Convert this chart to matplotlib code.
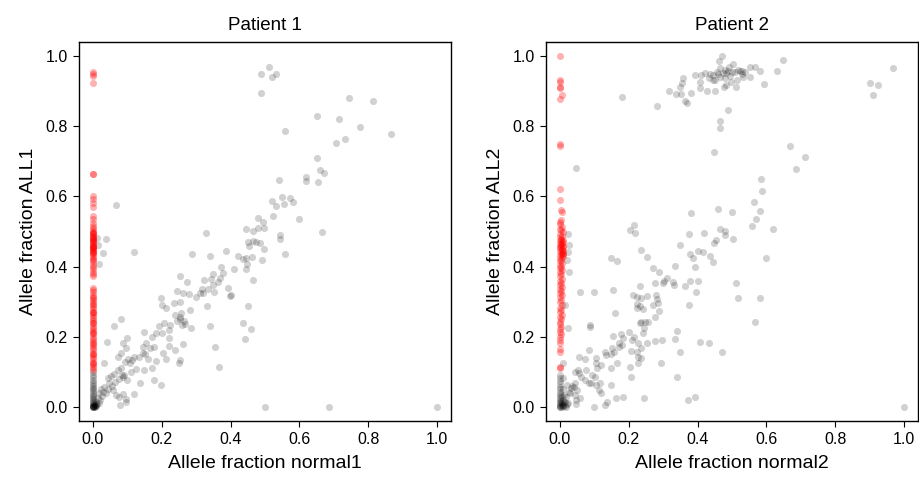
import numpy as np
import matplotlib
matplotlib.use("Agg")
import matplotlib.pyplot as plt

plt.rcParams['font.family'] = ['Liberation Sans', 'DejaVu Sans']

titles = ["Patient 1", "Patient 2"]
xlabels = ["Allele fraction normal1", "Allele fraction normal2"]
ylabels = ["Allele fraction ALL1", "Allele fraction ALL2"]
ticks = [0.0, 0.2, 0.4, 0.6, 0.8, 1.0]

# Patient 1: sites absent in normal (red), allele fraction in ALL1
red1_y = [0.955, 0.948, 0.943, 0.922, 0.665, 0.664, 0.601, 0.592, 0.581, 0.571,
          0.545, 0.535, 0.525, 0.515, 0.510, 0.505, 0.500, 0.497, 0.492, 0.488,
          0.484, 0.480, 0.476, 0.472, 0.468, 0.464, 0.460, 0.456, 0.452, 0.447,
          0.443, 0.438, 0.433, 0.428, 0.423, 0.418, 0.412, 0.405, 0.398, 0.392,
          0.385, 0.378, 0.372, 0.340, 0.334, 0.328, 0.320, 0.314, 0.306, 0.300,
          0.292, 0.286, 0.279, 0.272, 0.268, 0.262, 0.256, 0.250, 0.244, 0.238,
          0.231, 0.225, 0.219, 0.213, 0.207, 0.200, 0.193, 0.188, 0.181, 0.175,
          0.168, 0.162, 0.155, 0.149, 0.142, 0.136, 0.129, 0.122, 0.116, 0.110,
          0.105, 0.480, 0.470, 0.460, 0.450, 0.440, 0.495, 0.485, 0.455, 0.445,
          0.270, 0.240, 0.210, 0.180, 0.150, 0.125, 0.310, 0.290]

# Patient 1: remaining sites (grey), (normal1, ALL1)
gray1 = [
    (0.488, 0.949), (0.511, 0.970), (0.520, 0.941), (0.531, 0.948), (0.489, 0.896),
    (0.745, 0.881), (0.814, 0.873), (0.651, 0.830), (0.716, 0.820), (0.777, 0.799),
    (0.559, 0.786), (0.865, 0.778), (0.707, 0.751), (0.733, 0.764), (0.652, 0.709),
    (0.661, 0.674), (0.671, 0.667), (0.620, 0.656), (0.620, 0.644), (0.653, 0.642),
    (0.542, 0.647), (0.574, 0.595), (0.581, 0.583), (0.549, 0.597), (0.554, 0.578),
    (0.521, 0.588), (0.531, 0.574), (0.600, 0.536), (0.523, 0.544), (0.479, 0.538),
    (0.494, 0.528), (0.497, 0.510), (0.479, 0.511), (0.465, 0.501), (0.445, 0.508),
    (0.666, 0.500), (0.544, 0.489), (0.544, 0.478), (0.329, 0.497), (0.068, 0.576),
    (0.450, 0.470), (0.465, 0.474), (0.473, 0.469), (0.486, 0.468), (0.455, 0.459),
    (0.496, 0.449), (0.557, 0.435), (0.445, 0.424), (0.421, 0.430), (0.436, 0.423),
    (0.461, 0.426), (0.490, 0.420), (0.445, 0.394), (0.447, 0.406), (0.411, 0.393),
    (0.386, 0.445), (0.288, 0.435), (0.339, 0.431), (0.465, 0.361), (0.371, 0.400),
    (0.379, 0.383), (0.348, 0.378), (0.368, 0.367), (0.364, 0.356), (0.324, 0.362),
    (0.344, 0.366), (0.348, 0.348), (0.334, 0.336), (0.318, 0.336), (0.310, 0.324),
    (0.300, 0.312), (0.320, 0.326), (0.394, 0.340), (0.397, 0.317), (0.401, 0.319),
    (0.352, 0.328), (0.331, 0.288), (0.274, 0.357), (0.254, 0.373), (0.245, 0.330),
    (0.261, 0.326), (0.278, 0.323), (0.198, 0.310), (0.252, 0.300), (0.237, 0.295),
    (0.202, 0.291), (0.213, 0.281), (0.283, 0.276), (0.256, 0.269), (0.240, 0.262),
    (0.252, 0.257), (0.254, 0.251), (0.245, 0.245), (0.264, 0.246), (0.268, 0.236),
    (0.259, 0.234), (0.285, 0.226), (0.221, 0.219), (0.191, 0.230), (0.206, 0.238),
    (0.223, 0.234), (0.341, 0.232), (0.436, 0.238), (0.460, 0.221), (0.443, 0.193),
    (0.450, 0.288), (0.082, 0.250), (0.062, 0.231), (0.150, 0.215), (0.172, 0.200),
    (0.184, 0.210), (0.201, 0.210), (0.222, 0.196), (0.221, 0.174), (0.261, 0.179),
    (0.240, 0.162), (0.203, 0.153), (0.177, 0.172), (0.165, 0.167), (0.155, 0.183),
    (0.145, 0.172), (0.145, 0.155), (0.152, 0.151), (0.134, 0.143), (0.121, 0.143),
    (0.114, 0.134), (0.100, 0.196), (0.089, 0.181), (0.097, 0.167), (0.082, 0.153),
    (0.073, 0.143), (0.094, 0.129), (0.102, 0.136), (0.109, 0.124), (0.160, 0.137),
    (0.184, 0.131), (0.213, 0.137), (0.252, 0.134), (0.249, 0.126), (0.356, 0.172),
    (0.366, 0.115), (0.179, 0.077), (0.198, 0.063), (0.136, 0.069), (0.172, 0.110),
    (0.148, 0.105), (0.126, 0.107), (0.111, 0.101), (0.073, 0.105), (0.082, 0.110),
    (0.062, 0.094), (0.085, 0.091), (0.089, 0.085), (0.099, 0.077), (0.034, 0.126),
    (0.042, 0.186), (0.044, 0.082), (0.053, 0.088), (0.048, 0.067), (0.034, 0.058),
    (0.024, 0.050), (0.031, 0.044), (0.039, 0.039), (0.019, 0.039), (0.058, 0.048),
    (0.068, 0.034), (0.077, 0.029), (0.087, 0.037), (0.097, 0.022), (0.121, 0.037),
    (0.080, 0.006), (0.097, 0.015), (0.015, 0.025), (0.010, 0.015), (0.019, 0.010),
    (0.005, 0.006), (0.499, 0.000), (0.687, 0.000), (1.000, 0.000), (0.012, 0.481),
    (0.037, 0.479), (0.015, 0.462), (0.031, 0.438), (0.019, 0.406), (0.119, 0.443),
    (0.090, 0.090), (0.075, 0.080), (0.065, 0.070), (0.055, 0.060), (0.045, 0.050),
    (0.028, 0.030), (0.022, 0.020), (0.012, 0.008), (0.008, 0.003), (0.004, 0.002),
    (0.000, 0.100), (0.000, 0.092), (0.000, 0.085), (0.000, 0.078), (0.000, 0.072),
    (0.000, 0.066), (0.000, 0.060), (0.000, 0.055), (0.000, 0.050), (0.000, 0.045),
    (0.000, 0.040), (0.000, 0.035), (0.000, 0.030), (0.000, 0.026), (0.000, 0.022),
    (0.000, 0.018), (0.000, 0.014), (0.000, 0.010), (0.000, 0.007), (0.000, 0.004),
    (0.000, 0.002), (0.000, 0.000), (0.000, 0.000), (0.000, 0.000), (0.003, 0.001),
    (0.006, 0.004), (0.002, 0.003), (0.007, 0.000), (0.004, 0.008), (0.009, 0.005),
]

# Patient 2: sites absent in normal (red), (normal2, ALL2)
red2 = [
    (0.000, 1.000), (0.000, 0.932), (0.002, 0.926), (0.000, 0.912), (0.002, 0.908),
    (0.006, 0.888), (0.000, 0.878), (0.000, 0.750), (0.000, 0.745), (0.000, 0.622),
    (0.000, 0.590), (0.004, 0.560), (0.006, 0.556), (0.004, 0.532), (0.000, 0.526),
    (0.002, 0.520), (0.006, 0.514), (0.000, 0.508), (0.004, 0.503), (0.008, 0.498),
    (0.002, 0.493), (0.006, 0.488), (0.000, 0.484), (0.004, 0.480), (0.008, 0.476),
    (0.002, 0.472), (0.006, 0.468), (0.000, 0.464), (0.004, 0.460), (0.008, 0.456),
    (0.002, 0.452), (0.006, 0.448), (0.000, 0.444), (0.004, 0.440), (0.008, 0.436),
    (0.002, 0.432), (0.006, 0.428), (0.000, 0.424), (0.004, 0.420), (0.002, 0.415),
    (0.006, 0.410), (0.000, 0.405), (0.004, 0.400), (0.002, 0.395), (0.006, 0.390),
    (0.000, 0.384), (0.004, 0.378), (0.002, 0.372), (0.006, 0.366), (0.000, 0.360),
    (0.004, 0.354), (0.002, 0.348), (0.006, 0.342), (0.000, 0.336), (0.004, 0.330),
    (0.002, 0.324), (0.006, 0.318), (0.000, 0.312), (0.004, 0.305), (0.002, 0.298),
    (0.006, 0.290), (0.000, 0.283), (0.004, 0.276), (0.002, 0.270), (0.006, 0.263),
    (0.000, 0.256), (0.004, 0.250), (0.002, 0.243), (0.000, 0.236), (0.004, 0.229),
    (0.002, 0.222), (0.000, 0.215), (0.004, 0.208), (0.000, 0.200), (0.002, 0.190),
    (0.000, 0.182), (0.002, 0.166), (0.000, 0.158), (0.002, 0.115), (0.000, 0.110),
    (0.008, 0.470), (0.010, 0.460), (0.006, 0.450), (0.010, 0.440), (0.008, 0.430),
    (0.004, 0.465), (0.002, 0.455), (0.008, 0.445), (0.003, 0.475), (0.005, 0.435),
]

# Patient 2: remaining sites (grey), (normal2, ALL2)
gray2 = [
    (0.471, 1.000), (0.463, 0.986), (0.647, 0.989), (0.968, 0.965), (0.631, 0.958),
    (0.900, 0.923), (0.924, 0.917), (0.910, 0.889), (0.592, 0.921), (0.581, 0.957),
    (0.566, 0.970), (0.552, 0.970), (0.538, 0.955), (0.523, 0.958), (0.503, 0.977),
    (0.492, 0.970), (0.479, 0.960), (0.465, 0.965), (0.455, 0.955), (0.445, 0.946),
    (0.434, 0.936), (0.421, 0.953), (0.411, 0.946), (0.392, 0.946), (0.358, 0.938),
    (0.356, 0.924), (0.408, 0.927), (0.408, 0.908), (0.426, 0.901), (0.450, 0.901),
    (0.476, 0.913), (0.484, 0.917), (0.496, 0.927), (0.513, 0.911), (0.515, 0.932),
    (0.532, 0.939), (0.552, 0.941), (0.528, 0.949), (0.499, 0.955), (0.494, 0.943),
    (0.479, 0.936), (0.465, 0.941), (0.450, 0.932), (0.437, 0.949), (0.474, 0.951),
    (0.484, 0.951), (0.508, 0.955), (0.518, 0.960), (0.528, 0.958), (0.489, 0.958),
    (0.458, 0.949), (0.445, 0.932), (0.318, 0.901), (0.336, 0.891), (0.353, 0.891),
    (0.382, 0.896), (0.363, 0.872), (0.368, 0.865), (0.348, 0.911), (0.283, 0.859),
    (0.180, 0.884), (0.489, 0.846), (0.465, 0.815), (0.465, 0.794), (0.447, 0.727),
    (0.668, 0.744), (0.712, 0.713), (0.685, 0.679), (0.047, 0.681), (0.584, 0.651),
    (0.586, 0.616), (0.564, 0.583), (0.581, 0.559), (0.571, 0.537), (0.559, 0.516),
    (0.618, 0.508), (0.458, 0.564), (0.500, 0.555), (0.380, 0.554), (0.216, 0.519),
    (0.203, 0.504), (0.218, 0.495), (0.374, 0.492), (0.419, 0.495), (0.466, 0.508),
    (0.479, 0.502), (0.481, 0.489), (0.503, 0.480), (0.453, 0.477), (0.448, 0.467),
    (0.348, 0.461), (0.402, 0.444), (0.416, 0.443), (0.378, 0.436), (0.386, 0.425),
    (0.435, 0.430), (0.445, 0.414), (0.598, 0.424), (0.237, 0.447), (0.252, 0.426),
    (0.150, 0.424), (0.166, 0.417), (0.392, 0.400), (0.334, 0.403), (0.271, 0.395),
    (0.289, 0.386), (0.310, 0.367), (0.302, 0.360), (0.299, 0.352), (0.276, 0.352),
    (0.329, 0.357), (0.332, 0.348), (0.363, 0.345), (0.402, 0.359), (0.378, 0.360),
    (0.395, 0.327), (0.511, 0.352), (0.516, 0.310), (0.581, 0.310), (0.232, 0.345),
    (0.155, 0.333), (0.058, 0.329), (0.100, 0.329), (0.213, 0.319), (0.224, 0.312),
    (0.252, 0.317), (0.237, 0.310), (0.279, 0.319), (0.283, 0.308), (0.286, 0.295),
    (0.271, 0.291), (0.223, 0.293), (0.232, 0.288), (0.223, 0.281), (0.242, 0.278),
    (0.289, 0.274), (0.375, 0.291), (0.276, 0.257), (0.160, 0.267), (0.237, 0.243),
    (0.247, 0.243), (0.256, 0.243), (0.232, 0.238), (0.245, 0.224), (0.242, 0.210),
    (0.341, 0.217), (0.566, 0.243), (0.089, 0.234), (0.089, 0.227), (0.025, 0.226),
    (0.155, 0.202), (0.179, 0.208), (0.201, 0.213), (0.215, 0.200), (0.210, 0.191),
    (0.184, 0.196), (0.171, 0.181), (0.172, 0.170), (0.182, 0.177), (0.153, 0.167),
    (0.158, 0.158), (0.150, 0.151), (0.227, 0.183), (0.237, 0.167), (0.254, 0.181),
    (0.277, 0.189), (0.297, 0.191), (0.334, 0.194), (0.407, 0.186), (0.434, 0.183),
    (0.472, 0.158), (0.348, 0.156), (0.208, 0.160), (0.223, 0.158), (0.226, 0.143),
    (0.237, 0.139), (0.227, 0.124), (0.203, 0.113), (0.208, 0.084), (0.295, 0.124),
    (0.339, 0.086), (0.165, 0.124), (0.148, 0.110), (0.132, 0.158), (0.134, 0.147),
    (0.121, 0.120), (0.106, 0.139), (0.105, 0.124), (0.109, 0.110), (0.084, 0.162),
    (0.056, 0.143), (0.073, 0.136), (0.101, 0.086), (0.094, 0.091), (0.077, 0.104),
    (0.053, 0.105), (0.044, 0.101), (0.055, 0.098), (0.063, 0.086), (0.074, 0.077),
    (0.084, 0.069), (0.092, 0.067), (0.105, 0.063), (0.118, 0.069), (0.150, 0.063),
    (0.114, 0.048), (0.121, 0.041), (0.136, 0.015), (0.132, 0.006), (0.100, 0.001),
    (0.163, 0.025), (0.184, 0.028), (0.244, 0.025), (0.371, 0.020), (0.392, 0.029),
    (1.000, 0.000), (0.045, 0.067), (0.042, 0.058), (0.050, 0.048), (0.034, 0.053),
    (0.022, 0.063), (0.027, 0.044), (0.044, 0.034), (0.048, 0.020), (0.058, 0.025),
    (0.046, 0.008), (0.019, 0.029), (0.015, 0.015), (0.010, 0.006), (0.024, 0.010),
    (0.008, 0.082), (0.010, 0.124), (0.024, 0.493), (0.027, 0.461), (0.024, 0.442),
    (0.021, 0.419), (0.027, 0.385), (0.014, 0.290), (0.035, 0.060), (0.030, 0.040),
    (0.000, 0.090), (0.000, 0.082), (0.000, 0.074), (0.000, 0.066), (0.000, 0.058),
    (0.000, 0.050), (0.000, 0.044), (0.000, 0.038), (0.000, 0.032), (0.000, 0.026),
    (0.000, 0.020), (0.000, 0.015), (0.000, 0.010), (0.000, 0.006), (0.000, 0.003),
    (0.000, 0.000), (0.000, 0.000), (0.005, 0.000), (0.010, 0.002), (0.015, 0.004),
    (0.005, 0.012), (0.010, 0.020), (0.005, 0.030), (0.012, 0.035), (0.008, 0.050),
    (0.018, 0.000), (0.020, 0.008), (0.006, 0.006), (0.003, 0.018), (0.012, 0.013),
]

red1_x = [0.0] * len(red1_y)
panels = [
    (np.array(gray1), np.column_stack([red1_x, red1_y])),
    (np.array(gray2), np.array(red2)),
]

fig = plt.figure(figsize=(9.19, 4.8), dpi=100)
lefts = [79 / 919, 546 / 919]
for i, (g, r) in enumerate(panels):
    ax = fig.add_axes([lefts[i], 59 / 480, 372 / 919, 379 / 480])
    ax.scatter(g[:, 0], g[:, 1], s=26, color="black", alpha=0.18, linewidths=0)
    ax.scatter(r[:, 0], r[:, 1], s=26, color="red", alpha=0.3, linewidths=0)
    ax.set_xlim(-0.04, 1.04)
    ax.set_ylim(-0.04, 1.04)
    ax.set_xticks(ticks)
    ax.set_yticks(ticks)
    ax.set_xticklabels([f"{t:.1f}" for t in ticks])
    ax.set_yticklabels([f"{t:.1f}" for t in ticks])
    ax.tick_params(direction="out", length=4.5, width=0.8, labelsize=11.5, colors="black")
    for sp in ax.spines.values():
        sp.set_linewidth(1.0)
    ax.set_title(titles[i], fontsize=13.5, pad=9)
    ax.set_xlabel(xlabels[i], fontsize=14, labelpad=6)
    ax.set_ylabel(ylabels[i], fontsize=14, labelpad=6)

fig.savefig("out.png", dpi=100)
